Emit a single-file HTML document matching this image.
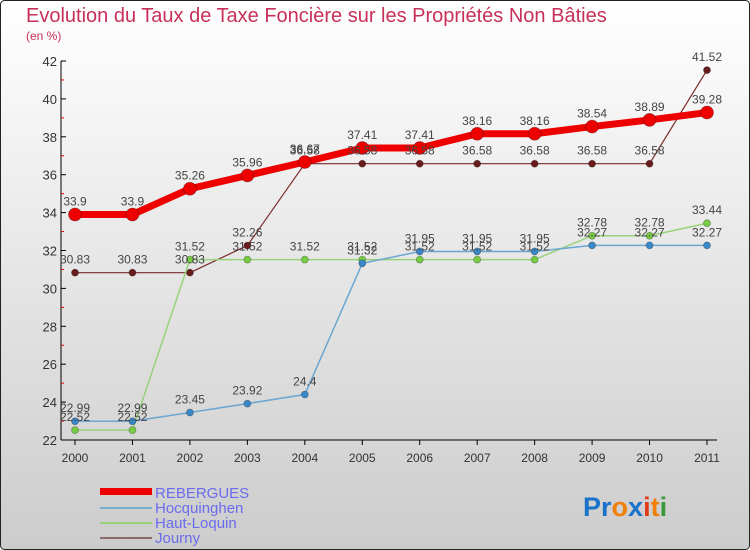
<!DOCTYPE html>
<html><head><meta charset="utf-8"><style>
html,body{margin:0;padding:0;width:750px;height:550px;overflow:hidden}
svg{display:block;font-family:"Liberation Sans",sans-serif}
</style></head><body>
<svg id="chart" width="750" height="550" xmlns="http://www.w3.org/2000/svg">
<defs><linearGradient id="bg" x1="0" y1="0" x2="0" y2="1"><stop offset="0" stop-color="#ffffff"/><stop offset="1" stop-color="#cccccc"/></linearGradient></defs>
<rect x="0.5" y="0.5" width="749" height="549" rx="4" fill="url(#bg)" stroke="#222"/>
<text x="26" y="22" font-size="20" fill="#c8305a">Evolution du Taux de Taxe Foncière sur les Propriétés Non Bâties</text>
<text x="26" y="40" font-size="12" fill="#c8305a">(en %)</text>
<g id="axes"></g><g id="series"></g><g id="labels"></g>
<g>
<rect x="100" y="488" width="52" height="7" fill="#ee0000"/>
<text x="155" y="498" font-size="15" fill="#6b6bee">REBERGUES</text>
<rect x="100" y="507" width="52" height="2" fill="#7aaed0"/>
<text x="155" y="513" font-size="15" fill="#6b6bee">Hocquinghen</text>
<rect x="100" y="522" width="52" height="2" fill="#99d27a"/>
<text x="155" y="528" font-size="15" fill="#6b6bee">Haut-Loquin</text>
<rect x="100" y="537" width="52" height="2" fill="#8e6a6a"/>
<text x="155" y="543" font-size="15" fill="#6b6bee">Journy</text>
</g>
<g font-size="27" font-weight="bold">
<text x="583" y="516"><tspan fill="#1a73c9">Pr</tspan><tspan fill="#f07f0a">o</tspan><tspan fill="#1a73c9">x</tspan><tspan fill="#e03a1a">i</tspan><tspan fill="#f07f0a">t</tspan><tspan fill="#3a9a3a">i</tspan></text>
</g>
</svg>
<script>
const years=["2000","2001","2002","2003","2004","2005","2006","2007","2008","2009","2010","2011"];
const yTicks=[22,24,26,28,30,32,34,36,38,40,42];
const rebergues=[33.9,33.9,35.26,35.96,36.67,37.41,37.41,38.16,38.16,38.54,38.89,39.28];
const hocquinghen=[22.99,22.99,23.45,23.92,24.4,31.32,31.95,31.95,31.95,32.27,32.27,32.27];
const hautLoquin=[22.52,22.52,31.52,31.52,31.52,31.52,31.52,31.52,31.52,32.78,32.78,33.44];
const journy=[30.83,30.83,30.83,32.26,36.58,36.58,36.58,36.58,36.58,36.58,36.58,41.52];
const NS="http://www.w3.org/2000/svg";
const X0=75,X1=707,Y0=440,Y1=61,YMIN=22,YMAX=42;
function xs(i){return X0+(X1-X0)*i/(years.length-1);}
function ys(v){return Y0-(v-YMIN)/(YMAX-YMIN)*(Y0-Y1);}
function mk(tag,attrs,parent){const e=document.createElementNS(NS,tag);for(const k in attrs)e.setAttribute(k,attrs[k]);parent.appendChild(e);return e;}
const axes=document.getElementById('axes');
const yAxis=mk('line',{x1:61,y1:Y1,x2:61,y2:Y0,stroke:'#000'},axes);


const xAxis=mk('line',{x1:61,y1:Y0,x2:X1+10,y2:Y0,stroke:'#000'},axes);


yTicks.forEach(v=>{
  mk('line',{x1:61,y1:ys(v),x2:66,y2:ys(v),stroke:'#000'},axes);
  if(v<YMAX) mk('line',{x1:61,y1:ys(v+1),x2:64,y2:ys(v+1),stroke:'#d00'},axes);
  const t=mk('text',{x:57,y:ys(v)+5,'font-size':13,fill:'#333','text-anchor':'end'},axes);
  t.textContent=v;
  
  
});
years.forEach((y,i)=>{
  mk('line',{x1:xs(i),y1:Y0,x2:xs(i),y2:Y0+5,stroke:'#000'},axes);
  const t=mk('text',{x:xs(i),y:Y0+22,'font-size':12,fill:'#333','text-anchor':'middle'},axes);
  t.textContent=y;
  
  
});
const sg=document.getElementById('series'),lg=document.getElementById('labels');
function draw(vals,name,color,w,r,dot){
  const pts=vals.map((v,i)=>xs(i)+','+ys(v)).join(' ');
  const pl=mk('polyline',{points:pts,fill:'none',stroke:color,'stroke-width':w,'stroke-linejoin':'round'},sg);
  
  
  vals.forEach((v,i)=>{
    const c=mk('circle',{cx:xs(i),cy:ys(v),r:r,fill:dot,stroke:'rgba(0,0,0,0.3)','stroke-width':0.8},sg);
    
    
    const t=mk('text',{x:xs(i),y:ys(v)-9,'font-size':12,fill:'#444','text-anchor':'middle'},lg);
    t.textContent=v;
    
    
  });
}
draw(journy,'journy','#7a2a2a',1.2,3.5,'#6a1c1c');
draw(hautLoquin,'haut-loquin','#99d27a',1.5,3.5,'#77cc44');
draw(hocquinghen,'hocquinghen','#6aa6d2',1.5,3.5,'#3a88c8');
draw(rebergues,'rebergues','#ee0000',7,6.5,'#ee0000');
</script>
</body></html>
